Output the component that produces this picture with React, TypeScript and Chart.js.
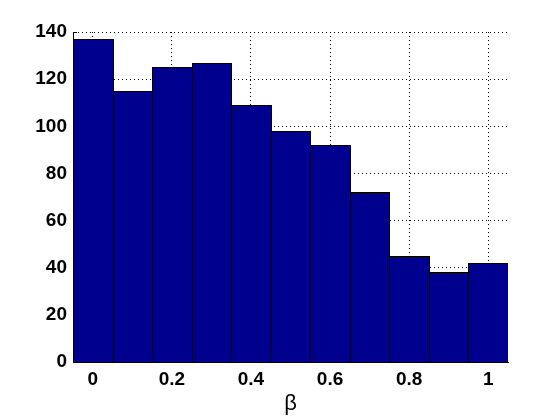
import React, { useEffect, useRef } from "react";
import { Chart, registerables } from "chart.js";

Chart.register(...registerables);

const binCenters = [0, 0.1, 0.2, 0.3, 0.4, 0.5, 0.6, 0.7, 0.8, 0.9, 1.0];
const counts = [137, 115, 125, 127, 109, 98, 92, 72, 45, 38, 42];
const xTicks = [0, 0.2, 0.4, 0.6, 0.8, 1];
const yTicks = [0, 20, 40, 60, 80, 100, 120, 140];
const xLabel = "β";

const BAR_FILL = "#00008F";

const snap = (v: number) => Math.round(Math.round(v * 1000) / 1000);

const histStyle = {
  id: "histStyle",
  // snap the library-computed bar geometry to whole pixels, sharing 1px edges
  afterDatasetsUpdate(chart: any) {
    const meta = chart.getDatasetMeta(0);
    for (const el of meta.data) {
      const l = snap(el.x - el.width / 2);
      const r = snap(el.x + el.width / 2);
      el.x = (l + r + 1) / 2;
      el.width = r - l + 1;
      el.y = snap(el.y);
      el.base = snap(el.base);
    }
  },
  beforeDatasetsDraw(chart: any) {
    const ctx = chart.ctx;
    const x = chart.scales.x;
    const y = chart.scales.y;
    const area = chart.chartArea;
    ctx.save();
    ctx.strokeStyle = "#000";
    ctx.lineWidth = 1;
    ctx.beginPath();
    for (const v of yTicks) {
      const py = Math.round(y.getPixelForValue(v)) + 0.5;
      ctx.moveTo(area.left, py);
      ctx.lineTo(area.left + 4, py);
    }
    for (const v of xTicks) {
      const px = Math.round(x.getPixelForValue(v)) + 0.5;
      ctx.moveTo(px, area.bottom);
      ctx.lineTo(px, area.bottom - 4);
    }
    ctx.stroke();
    ctx.restore();
  },
};

const tickFont = { family: "'Liberation Sans', Arial, sans-serif", size: 19, weight: "bold" as const };

export default function App() {
  const ref = useRef<HTMLCanvasElement | null>(null);
  useEffect(() => {
    if (!ref.current) return;
    const chart = new Chart(ref.current, {
      type: "bar",
      data: {
        datasets: [
          {
            data: binCenters.map((c, i) => ({ x: c, y: counts[i] })),
            backgroundColor: BAR_FILL,
            borderColor: "#000000",
            borderWidth: 1,
            borderSkipped: "start",
            inflateAmount: 0,
            barPercentage: 1,
            categoryPercentage: 1,
          },
        ],
      },
      options: {
        animation: false,
        responsive: false,
        devicePixelRatio: 1,
        layout: { padding: { left: 0, top: 32, right: 52, bottom: 0 } },
        plugins: {
          legend: { display: false },
          tooltip: { enabled: false },
        },
        scales: {
          x: {
            type: "linear",
            min: -0.05,
            max: 1.05,
            offset: false,
            afterBuildTicks: (s: any) => {
              s.ticks = xTicks.map((v) => ({ value: v }));
            },
            afterFit: (s: any) => {
              s.height = 58;
            },
            ticks: {
              autoSkip: false,
              maxRotation: 0,
              padding: 6,
              color: "#000",
              font: tickFont,
              callback: (v: any) => String(Math.round(Number(v) * 10) / 10),
            },
            grid: { color: "#000", lineWidth: 1, drawTicks: false, offset: false },
            border: { display: true, color: "#000", width: 1, dash: [1, 3] },
            title: {
              display: true,
              text: xLabel,
              color: "#000",
              font: { family: "'Liberation Sans', Arial, sans-serif", size: 22, weight: "normal" },
              padding: { top: 0, bottom: 3 },
            },
          },
          y: {
            min: 0,
            max: 140,
            afterBuildTicks: (s: any) => {
              s.ticks = yTicks.map((v) => ({ value: v }));
            },
            afterFit: (s: any) => {
              s.width = 73;
            },
            ticks: {
              autoSkip: false,
              padding: 6,
              color: "#000",
              font: tickFont,
            },
            grid: { color: "#000", lineWidth: 1, drawTicks: false },
            border: { display: true, color: "#000", width: 1, dash: [1, 3] },
          },
        },
      },
      plugins: [histStyle],
    });
    return () => chart.destroy();
  }, []);
  return (
    <div style={{ position: "fixed", left: 0, top: 0, width: 560, height: 420, background: "#fff" }}>
      <canvas ref={ref} width={560} height={420} style={{ display: "block" }} />
    </div>
  );
}
